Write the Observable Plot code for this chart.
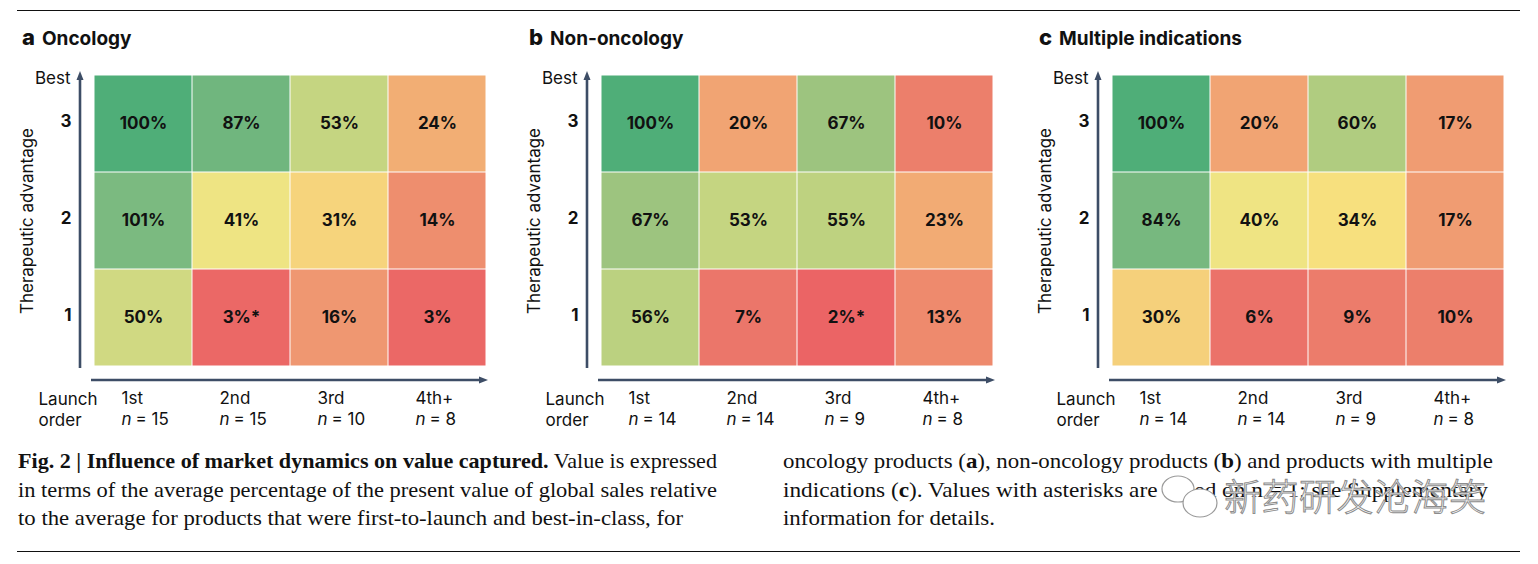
<!DOCTYPE html>
<html><head><meta charset="utf-8">
<script src="https://cdn.jsdelivr.net/npm/d3@7"></script>
<script src="https://cdn.jsdelivr.net/npm/@observablehq/plot@0.6"></script>
<style>
body{margin:0;background:#fff;}
#page{position:relative;width:1538px;height:564px;overflow:hidden;background:#fff;font-family:Inter, sans-serif;color:#111;}
.title{position:absolute;top:24px;line-height:19px;white-space:nowrap;color:#111;}
.title .k{font:800 22px Inter, sans-serif;margin-right:7px;}
.title .t{font:700 19px Inter, sans-serif;}
.panel{position:absolute;top:60px;}
#overlay{position:absolute;left:0;top:0;}
</style></head><body><div id="page">
<div class="title" style="left:22px"><span class="k">a</span><span class="t">Oncology</span></div>
<div class="title" style="left:529px"><span class="k">b</span><span class="t">Non-oncology</span></div>
<div class="title" style="left:1039px"><span class="k">c</span><span class="t">Multiple indications</span></div>
<div class="panel" id="pa" style="left:0px"></div>
<div class="panel" id="pb" style="left:507px"></div>
<div class="panel" id="pc" style="left:1018px"></div>
<svg id="overlay" width="1538" height="564"></svg>
</div>
<script>
// ---- data ----
const launchOrders = ["1st", "2nd", "3rd", "4th+"];
const advantageLevels = ["3", "2", "1"]; // top to bottom
const oncologyValues = [100, 87, 53, 24, 101, 41, 31, 14, 50, 3, 16, 3];
const oncologyStars = [0, 0, 0, 0, 0, 0, 0, 0, 0, 1, 0, 0];
const oncologyN = [15, 15, 10, 8];
const nonOncologyValues = [100, 20, 67, 10, 67, 53, 55, 23, 56, 7, 2, 13];
const nonOncologyStars = [0, 0, 0, 0, 0, 0, 0, 0, 0, 0, 1, 0];
const nonOncologyN = [14, 14, 9, 8];
const multipleValues = [100, 20, 60, 17, 84, 40, 34, 17, 30, 6, 9, 10];
const multipleStars = [0, 0, 0, 0, 0, 0, 0, 0, 0, 0, 0, 0];
const multipleN = [14, 14, 9, 8];

// colour scale stops (value -> colour)
const colorStops = [2, 7, 12, 17, 24, 30, 35, 42, 55, 67, 85, 100, 101];
const colorRange = ["#eb6465", "#eb766a", "#ed856c", "#f09c72", "#f2ae74", "#f5d07b",
                    "#f8e47f", "#ece484", "#bed280", "#9dc47f", "#75b77f", "#4fae78", "#7bba80"];
const AXIS = "#3d4d66";

const arrowsMark = (index, scales, values, dimensions) => {
  const {width, height, marginLeft, marginTop, marginRight, marginBottom} = dimensions;
  const g = d3.create("svg:g");
  const x0 = marginLeft - 13, yB = height - marginBottom + 1, yT = marginTop - 1;
  g.append("line").attr("x1", x0).attr("x2", x0).attr("y1", yB).attr("y2", yT + 5)
    .attr("stroke", AXIS).attr("stroke-width", 2.6);
  g.append("path").attr("d", `M${x0},${yT - 2}L${x0 - 3.5},${yT + 7}L${x0 + 3.5},${yT + 7}Z`).attr("fill", AXIS);
  const y0 = height - marginBottom + 13, xL = marginLeft - 2, xR = width - marginRight;
  g.append("line").attr("x1", xL).attr("x2", xR - 5).attr("y1", y0).attr("y2", y0)
    .attr("stroke", AXIS).attr("stroke-width", 2.6);
  g.append("path").attr("d", `M${xR + 1},${y0}L${xR - 8},${y0 - 3.5}L${xR - 8},${y0 + 3.5}Z`).attr("fill", AXIS);
  return g.node();
};

function panel(values, stars, ns) {
  const cells = values.map((v, i) => ({
    order: launchOrders[i % 4],
    adv: advantageLevels[Math.floor(i / 4)],
    value: v,
    label: v + "%" + (stars[i] ? "*" : "")
  }));
  const ticks = launchOrders.map((o, i) => ({order: o, n: ns[i]}));
  const lbl = {fontSize: 17, fill: "#111", lineAnchor: "middle"};
  return Plot.plot({
    width: 510, height: 370,
    marginLeft: 93, marginRight: 23, marginTop: 14, marginBottom: 63,
    style: {fontFamily: "Inter, sans-serif", color: "#111", background: "transparent", overflow: "visible"},
    x: {type: "band", domain: launchOrders, padding: 0, axis: null},
    y: {type: "band", domain: advantageLevels, padding: 0, axis: null},
    color: {type: "linear", domain: colorStops, range: colorRange, clamp: true, interpolate: "rgb"},
    marks: [
      Plot.cell(cells, {x: "order", y: "adv", fill: "value", inset: 0.5}),
      Plot.text(cells, {x: "order", y: "adv", text: "label", fontSize: 17, fontWeight: 700, fill: "#111"}),
      Plot.axisY({anchor: "left", tickSize: 0, tickPadding: 22, fontSize: 17, fontWeight: 700, label: null, dy: -2, fill: "#111"}),
      Plot.text(ticks, {...lbl, x: "order", text: "order", frameAnchor: "bottom", textAnchor: "start", dx: -22, dy: 31}),
      Plot.text(ticks, {...lbl, x: "order", text: () => "n", frameAnchor: "bottom", textAnchor: "start", dx: -22, dy: 52, fontStyle: "italic"}),
      Plot.text(ticks, {...lbl, x: "order", text: d => "= " + d.n, frameAnchor: "bottom", textAnchor: "start", dx: -8, dy: 52}),
      Plot.text(["Best"], {...lbl, frameAnchor: "top-left", textAnchor: "end", dx: -23, dy: 4}),
      Plot.text(["Therapeutic advantage"], {...lbl, frameAnchor: "left", textAnchor: "middle", rotate: -90, dx: -66}),
      Plot.text(["Launch\norder"], {...lbl, frameAnchor: "bottom-left", textAnchor: "start", dx: -55, dy: 41.5, lineHeight: 1.24}),
      arrowsMark
    ]
  });
}

document.getElementById("pa").append(panel(oncologyValues, oncologyStars, oncologyN));
document.getElementById("pb").append(panel(nonOncologyValues, nonOncologyStars, nonOncologyN));
document.getElementById("pc").append(panel(multipleValues, multipleStars, multipleN));

// ---- rules, caption, watermark ----
const ov = d3.select("#overlay");
ov.append("line").attr("x1", 17).attr("x2", 1520).attr("y1", 10.5).attr("y2", 10.5).attr("stroke", "#111").attr("stroke-width", 1.2);
ov.append("line").attr("x1", 17).attr("x2", 1520).attr("y1", 551.5).attr("y2", 551.5).attr("stroke", "#111").attr("stroke-width", 1.2);

const captionLines = [
  {x: 18, y: 468, w: 699, parts: [["Fig. 2 | Influence of market dynamics on value captured.", 700], [" Value is expressed", 400]]},
  {x: 18, y: 497, w: 699, parts: [["in terms of the average percentage of the present value of global sales relative", 400]]},
  {x: 18, y: 525, w: 665, parts: [["to the average for products that were first-to-launch and best-in-class, for", 400]]},
  {x: 783, y: 468, w: 710, parts: [["oncology products (", 400], ["a", 700], ["), non-oncology products (", 400], ["b", 700], [") and products with multiple", 400]]},
  {x: 783, y: 497, w: 705, parts: [["indications (", 400], ["c", 700], ["). Values with asterisks are based on n = 1; see Supplementary", 400]]},
  {x: 783, y: 525, w: 212, parts: [["information for details.", 400]]}
];
captionLines.forEach(l => {
  const t = ov.append("text").attr("x", l.x).attr("y", l.y)
    .attr("font-family", "'Liberation Serif', serif").attr("font-size", 21).attr("fill", "#111")
    .attr("textLength", l.w).attr("lengthAdjust", "spacingAndGlyphs");
  l.parts.forEach(([s, w]) => t.append("tspan").attr("font-weight", w).text(s));
});

// watermark
const wm = ov.append("g").attr("fill", "#fff").attr("stroke", "#9a9a9a").attr("stroke-width", 1.2);
wm.append("ellipse").attr("cx", 1178).attr("cy", 489).attr("rx", 16).attr("ry", 13);
wm.append("ellipse").attr("cx", 1200).attr("cy", 503).attr("rx", 17).attr("ry", 14);
ov.append("text").attr("x", 1224).attr("y", 511)
  .attr("font-family", "'Noto Sans CJK SC', sans-serif").attr("font-weight", 300).attr("font-size", 37)
  .attr("fill", "#fff").attr("stroke", "#8c8c8c").attr("stroke-width", 1).attr("textLength", 262)
  .text("新药研发沧海笑");
</script>
</body></html>
